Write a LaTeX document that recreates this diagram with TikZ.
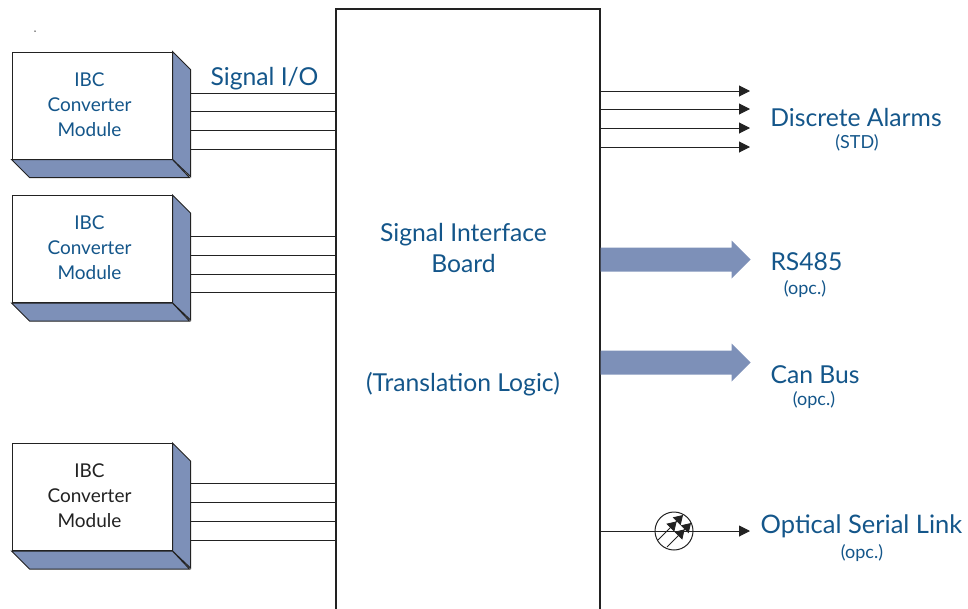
\documentclass[tikz,border=0pt]{standalone}
\usepackage{fontspec}
\setmainfont{Lato}
\usetikzlibrary{shapes,arrows,arrows.meta,positioning}
\definecolor{facecol}{HTML}{7D90B8}
\definecolor{textcol}{HTML}{14568A}
\definecolor{linecol}{HTML}{222222}

\begin{document}
\begin{tikzpicture}[x=1pt,y=-1pt,>={Triangle[length=11pt,width=11pt]},line width=1pt,draw=linecol,text=textcol]

    % Define node styles
    \tikzstyle{module} = [draw, rectangle, fill=white, minimum width=160pt, minimum height=107pt, inner sep=0pt]
    \tikzstyle{modlabel} = [inner sep=0pt, align=center, font=\fontsize{19}{25}\selectfont]
    \tikzstyle{board} = [draw, rectangle, line width=1.4pt, minimum width=264pt, minimum height=640pt, inner sep=0pt]
    \tikzstyle{side} = [draw, fill=facecol]
    \tikzstyle{fat} = [single arrow, fill=facecol, minimum height=150pt, single arrow head extend=7pt, inner xsep=0pt, inner ysep=11.5pt, anchor=tail]
    \tikzstyle{big} = [font=\fontsize{24.7}{30}\selectfont, inner sep=0pt]
    \tikzstyle{small} = [font=\fontsize{18}{22}\selectfont, inner sep=0pt]
    \tikzstyle{beam} = [line width=0.8pt, -{Triangle[length=9pt,width=11pt]Triangle[length=9pt,width=11pt]}]

    \clip (0,0) rectangle (968,608);

    % Draw nodes
    \node [board] (board) at (468,329) {};
    \node [module] (m1) at (92,105.5) {};
    \node [module] (m2) at (92,249) {};
    \node [module] (m3) at (92,497) {};
    \node [modlabel] (l1) at (89.5,105) {IBC\\Converter\\Module};
    \node [modlabel] (l2) at (89.5,248) {IBC\\Converter\\Module};
    \node [modlabel, text=linecol] (l3) at (89.5,496) {IBC\\Converter\\Module};

    % Depth of the modules
    \foreach \m in {m1,m2,m3} {
        \draw [side] (\m.north east) -- ++(18,18) -- ++(0,107) -- (\m.south east) -- cycle;
        \draw [side] (\m.south west) -- ++(18,18) -- ++(160,0) -- (\m.south east) -- cycle;
    }

    % Signal lines
    \foreach \y in {93,111,130,149,236,255,274,292,483,502,521,540} {
        \coordinate (s\y) at (190,\y);
        \draw (s\y) -- (board.west |- s\y);
    }

    % Outputs
    \foreach \y in {91,109,128,147} {
        \coordinate (a\y) at (750,\y);
        \draw [->] (board.east |- a\y) -- (a\y);
    }
    \node [fat] (rs) at (600,259.5) {};
    \node [fat] (can) at (600,362.5) {};
    \node [draw, circle, minimum size=38pt, inner sep=0pt] (opto) at (674,531) {};
    \coordinate (optoend) at (750,531);
    \draw [->] (board.east |- opto) -- (optoend);
    \coordinate (b1) at (658,540);
    \coordinate (t1) at (683,515);
    \coordinate (b2) at (667,547);
    \coordinate (t2) at (691,523);
    \draw [beam] (b1) -- (t1);
    \draw [beam] (b2) -- (t2);

    % Labels
    \node [big] (sigio) at (264.5,79) {Signal I/O};
    \node [big] (title) at (463.5,235) {Signal Interface};
    \node [big] (title2) at (463.5,263) {Board};
    \node [big] (logic) at (463,384) {(Translation Logic)};
    \node [big] (alarms) at (856,117) {Discrete Alarms};
    \node [small] (std) at (857,143) {(STD)};
    \node [big, anchor=west] (rslab) at (770,262) {RS485};
    \node [small] (rsopc) at (805,289) {(opc.)};
    \node [big, anchor=west] (canlab) at (770,375) {Can Bus};
    \node [small] (canopc) at (814,400) {(opc.)};
    \node [big, font=\fontsize{25.5}{30}\selectfont] (optlab) at (861.5,526) {Optical Serial Link};
    \node [small] (optopc) at (862,553) {(opc.)};
    \node [fill=linecol, circle, minimum size=1.5pt, inner sep=0pt] (dot) at (35,31) {};

\end{tikzpicture}
\end{document}
